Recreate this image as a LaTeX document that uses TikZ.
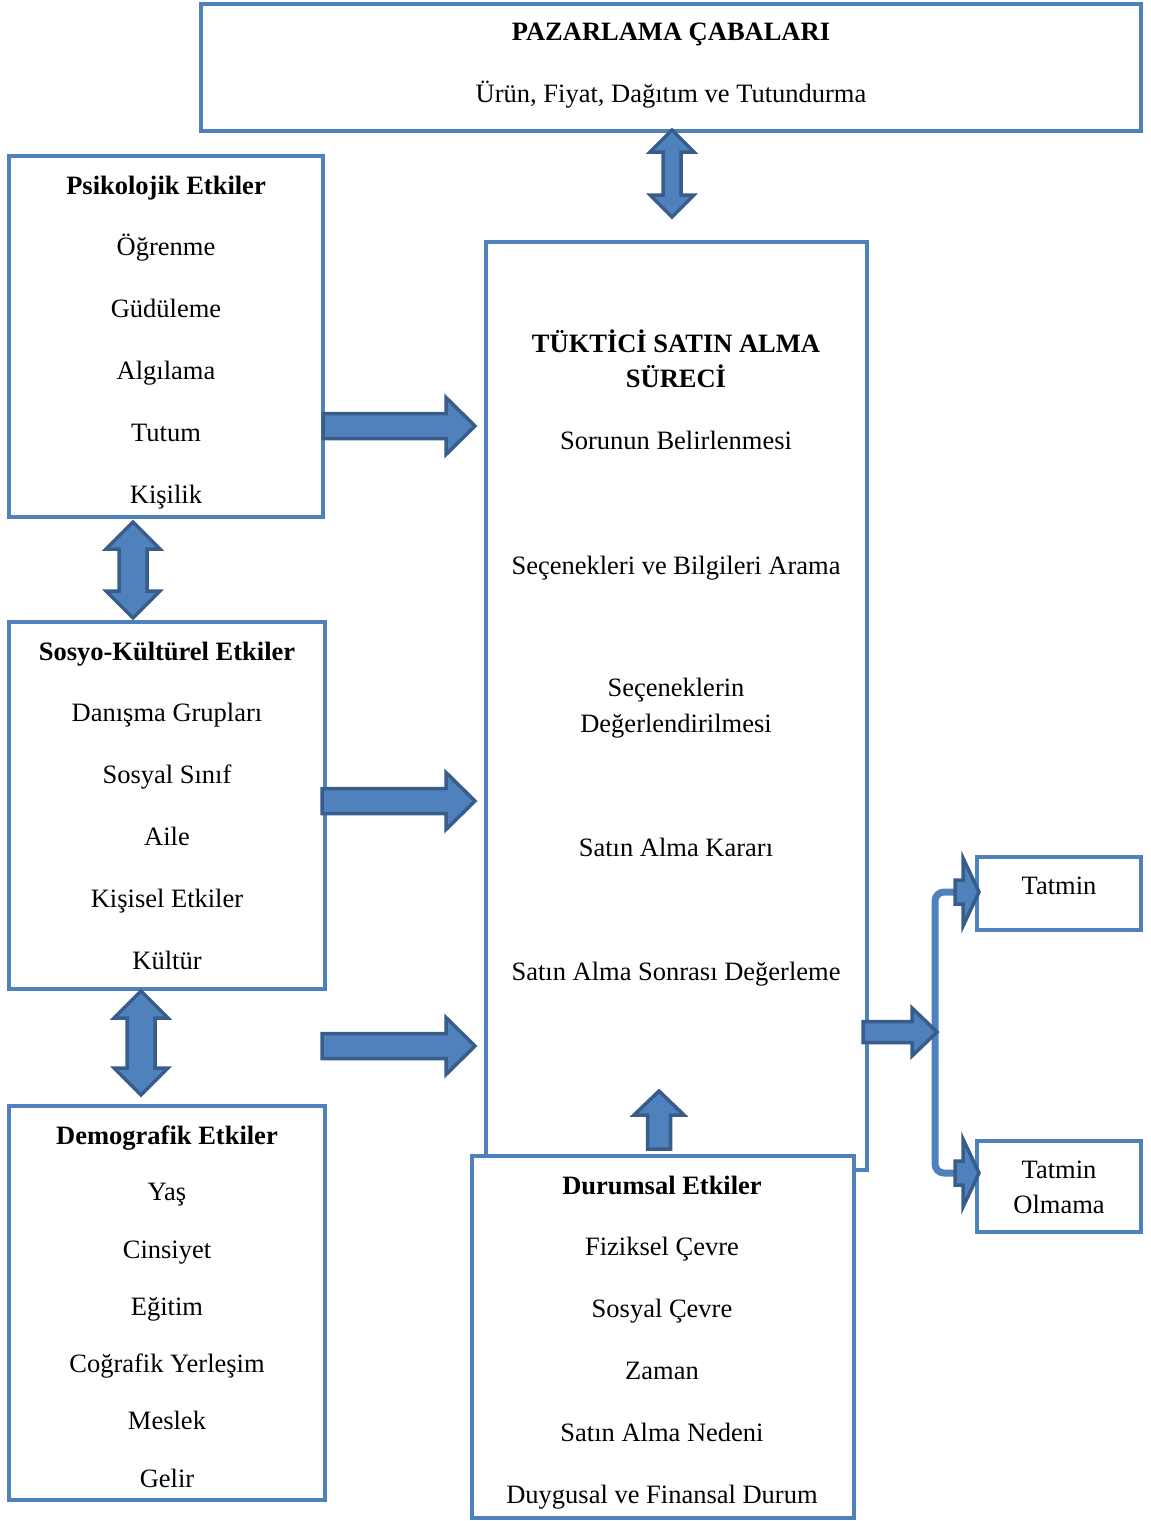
\documentclass[tikz,border=0pt]{standalone}
\usepackage{fontspec}
\setmainfont{Liberation Serif}
\usetikzlibrary{calc}

\definecolor{boxblue}{HTML}{4F81BD}
\definecolor{arrowfill}{HTML}{4F81BD}
\definecolor{arrowline}{HTML}{385D8A}

% single block arrow: tail, tip, shaft half-width, head half-width, head length
\newcommand\onearrow[5]{%
  \coordinate (hb) at ($(#2)!#5!(#1)$);
  \draw[blockarrow] ($(#1)!#3!90:(#2)$) -- ($(hb)!#3!-90:(#1)$) -- ($(hb)!#4!-90:(#1)$)
    -- (#2) -- ($(hb)!#4!90:(#1)$) -- ($(hb)!#3!90:(#1)$) -- ($(#1)!#3!-90:(#2)$) -- cycle;}

% double block arrow: tip, tip, shaft half-width, head half-width, head length
\newcommand\twoarrow[5]{%
  \coordinate (ha) at ($(#1)!#5!(#2)$);
  \coordinate (hb) at ($(#2)!#5!(#1)$);
  \draw[blockarrow] (#1) -- ($(ha)!#4!90:(#2)$) -- ($(ha)!#3!90:(#2)$)
    -- ($(hb)!#3!-90:(#1)$) -- ($(hb)!#4!-90:(#1)$) -- (#2)
    -- ($(hb)!#4!90:(#1)$) -- ($(hb)!#3!90:(#1)$)
    -- ($(ha)!#3!-90:(#2)$) -- ($(ha)!#4!-90:(#2)$) -- cycle;}

\tikzset{
  box/.style={draw=boxblue, line width=4pt, fill=white, inner sep=0pt, rectangle},
  txt/.style={anchor=base, inner sep=0pt, font=\fontsize{26.5}{30}\selectfont},
  ttl/.style={txt, font=\fontsize{26.5}{30}\selectfont\bfseries},
  blockarrow/.style={fill=arrowfill, draw=arrowline, line width=3.5pt, line join=miter},
  bracketline/.style={draw=boxblue, line width=7pt, rounded corners=9pt},
}

\begin{document}
\begin{tikzpicture}[x=1pt, y=-1pt]
\useasboundingbox (0,0) rectangle (1151,1521);

% boxes
\node[box, minimum width=940, minimum height=127] (paz) at (671,67.5) {};
\node[box, minimum width=314, minimum height=361] (psy) at (166,336.5) {};
\node[box, minimum width=316, minimum height=367] (soc) at (167,805.5) {};
\node[box, minimum width=316, minimum height=394] (dem) at (167,1303) {};
\node[box, minimum width=381, minimum height=928] (proc) at (676.5,706) {};
\node[box, minimum width=382, minimum height=362] (sit) at (663,1337) {};
\node[box, minimum width=164, minimum height=73] (sat) at (1059,893.5) {};
\node[box, minimum width=164, minimum height=91] (dis) at (1059,1186.5) {};

% marketing efforts
\node[ttl] (pazT) at (671,40) {PAZARLAMA ÇABALARI};
\node[txt] (pazS) at (671,102) {Ürün, Fiyat, Dağıtım ve Tutundurma};

% psychological
\node[ttl] (psyT) at (166,194) {Psikolojik Etkiler};
\node[txt] (psy1) at (166,255) {Öğrenme};
\node[txt] (psy2) at (166,317) {Güdüleme};
\node[txt] (psy3) at (166,379) {Algılama};
\node[txt] (psy4) at (166,441) {Tutum};
\node[txt] (psy5) at (166,503) {Kişilik};

% socio-cultural
\node[ttl] (socT) at (167,660) {Sosyo-Kültürel Etkiler};
\node[txt] (soc1) at (167,721) {Danışma Grupları};
\node[txt] (soc2) at (167,783) {Sosyal Sınıf};
\node[txt] (soc3) at (167,845) {Aile};
\node[txt] (soc4) at (167,907) {Kişisel Etkiler};
\node[txt] (soc5) at (167,969) {Kültür};

% demographic
\node[ttl] (demT) at (167,1144) {Demografik Etkiler};
\node[txt] (dem1) at (167,1200) {Yaş};
\node[txt] (dem2) at (167,1258) {Cinsiyet};
\node[txt] (dem3) at (167,1315) {Eğitim};
\node[txt] (dem4) at (167,1372) {Coğrafik Yerleşim};
\node[txt] (dem5) at (167,1429) {Meslek};
\node[txt] (dem6) at (167,1487) {Gelir};

% purchase process
\node[ttl] (procT1) at (676,352) {TÜKTİCİ SATIN ALMA};
\node[ttl] (procT2) at (676,387) {SÜRECİ};
\node[txt] (proc1) at (676,449) {Sorunun Belirlenmesi};
\node[txt] (proc2) at (676,574) {Seçenekleri ve Bilgileri Arama};
\node[txt] (proc3a) at (676,696) {Seçeneklerin};
\node[txt] (proc3b) at (676,732) {Değerlendirilmesi};
\node[txt] (proc4) at (676,856) {Satın Alma Kararı};
\node[txt] (proc5) at (676,980) {Satın Alma Sonrası Değerleme};

% situational
\node[ttl] (sitT) at (662,1194) {Durumsal Etkiler};
\node[txt] (sit1) at (662,1255) {Fiziksel Çevre};
\node[txt] (sit2) at (662,1317) {Sosyal Çevre};
\node[txt] (sit3) at (662,1379) {Zaman};
\node[txt] (sit4) at (662,1441) {Satın Alma Nedeni};
\node[txt] (sit5) at (662,1503) {Duygusal ve Finansal Durum};

% outcomes
\node[txt] (satT) at (1059,894) {Tatmin};
\node[txt] (disT1) at (1059,1178) {Tatmin};
\node[txt] (disT2) at (1059,1213) {Olmama};

% arrow end points
\coordinate (pazB) at (672,130);
\coordinate (procTop) at (672,217);
\coordinate (psyE) at (323,426);
\coordinate (procW1) at (475,426);
\coordinate (psyS) at (133,522);
\coordinate (socN) at (133,618);
\coordinate (socE) at (322,801);
\coordinate (procW2) at (475,801);
\coordinate (socS) at (141,991);
\coordinate (demN) at (141,1095);
\coordinate (freeTail) at (322,1046);
\coordinate (procW3) at (475,1046);
\coordinate (sitN) at (659,1149);
\coordinate (procIn) at (659,1091);
\coordinate (procE) at (863,1032);
\coordinate (split) at (937,1032);
\coordinate (up1) at (955,892);
\coordinate (up2) at (955,1173);
\coordinate (satW) at (979,892);
\coordinate (disW) at (979,1173);

% splitting bracket
\draw[bracketline] (up1) -- (935,892) -- (935,1173) -- (up2);

% block arrows
\twoarrow{pazB}{procTop}{9pt}{22pt}{22pt}
\onearrow{psyE}{procW1}{12.5pt}{28.5pt}{29pt}
\twoarrow{psyS}{socN}{14pt}{27pt}{27pt}
\onearrow{socE}{procW2}{12.5pt}{28.5pt}{29pt}
\twoarrow{socS}{demN}{14pt}{27pt}{27pt}
\onearrow{freeTail}{procW3}{12.5pt}{28.5pt}{29pt}
\onearrow{sitN}{procIn}{11.5pt}{25pt}{24pt}
\onearrow{procE}{split}{10.5pt}{24pt}{25pt}
\onearrow{up1}{satW}{12pt}{34pt}{16pt}
\onearrow{up2}{disW}{12pt}{34pt}{16pt}

\end{tikzpicture}
\end{document}
